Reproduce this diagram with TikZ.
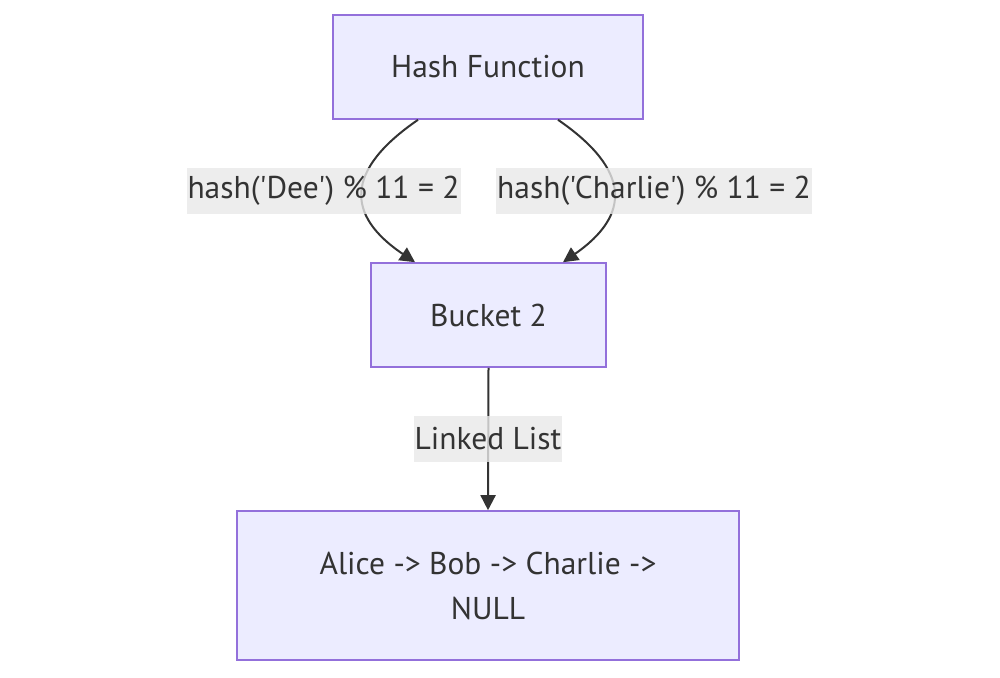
\documentclass[tikz,border=0pt]{standalone}
\usepackage{fontspec}
\setmainfont{PT Sans}[Ligatures=TeXOff]
\usetikzlibrary{arrows.meta}
\definecolor{boxfill}{HTML}{ECECFF}
\definecolor{boxline}{HTML}{9370DB}
\definecolor{txt}{HTML}{333333}
\definecolor{lblbg}{HTML}{E8E8E8}
\tikzset{
  box/.style={draw=boxline, fill=boxfill, line width=1.6pt, text=txt, align=center, font=\fontsize{31.5}{45}\selectfont, inner sep=0pt},
  lbl/.style={fill=lblbg, fill opacity=0.8, text opacity=1, text=txt, font=\fontsize{31.5}{38}\selectfont, minimum height=46pt, inner xsep=1pt, inner ysep=0pt},
  edge/.style={draw=txt, line width=2pt, -{Triangle[length=15pt,width=15pt]}}
}
\begin{document}
\begin{tikzpicture}[x=1pt,y=-1pt]
\useasboundingbox (0,0) rectangle (1000,677);
\node[box, minimum width=310pt, minimum height=104pt] (hf) at (488,67) {Hash Function};
\node[box, minimum width=235pt, minimum height=104pt] (b2) at (488.5,315) {Bucket 2};
\node[box, minimum width=502pt, minimum height=149pt] (ll) at (488,585.5) {Alice -> Bob -> Charlie ->\\NULL};
\draw[edge] ([xshift=-70pt]hf.south) .. controls (345,170) and (345,215) .. ([xshift=-73.5pt]b2.north);
\draw[edge] ([xshift=70pt]hf.south) .. controls (631,170) and (631,215) .. ([xshift=74.5pt]b2.north);
\draw[edge] (b2.south) -- (ll.north);
\node[lbl] (l1) at (323.5,191) {hash('Dee') \% 11 = 2};
\node[lbl] (l2) at (654,191) {hash('Charlie') \% 11 = 2};
\node[lbl] (l3) at (488,439) {Linked List};
\end{tikzpicture}
\end{document}
